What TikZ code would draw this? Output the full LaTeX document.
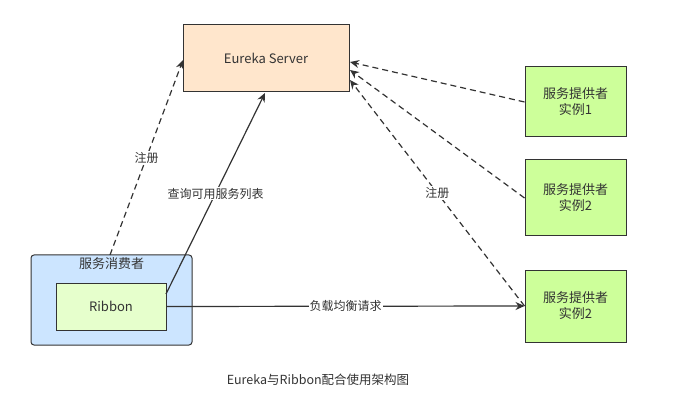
\documentclass[tikz,border=0pt]{standalone}
\usepackage{fontspec}
\setmainfont{Noto Sans CJK SC}
\usetikzlibrary{arrows.meta}
\definecolor{peach}{HTML}{FFE6CC}
\definecolor{lgreen}{HTML}{CDFF9A}
\definecolor{pgreen}{HTML}{E6FFCC}
\definecolor{lblue}{HTML}{CCE5FF}
\definecolor{ln}{HTML}{333333}
\begin{document}
\begin{tikzpicture}[x=1pt,y=-1pt,
  box/.style={draw=ln,line width=1pt,font=\fontsize{13}{16}\selectfont,text=ln,align=center,inner sep=0},
  arr/.style={draw=ln,line width=1.2pt,-{Stealth[length=9pt,width=8pt]}},
  darr/.style={arr,dash pattern=on 6pt off 4pt},
  lbl/.style={fill=white,font=\fontsize{12}{14}\selectfont,text=ln,inner sep=1pt}]
\useasboundingbox (0,0) rectangle (684,419);
\node[box,fill=peach,minimum width=166pt,minimum height=67pt] (eur) at (266,58.5) {Eureka Server};
\node[box,fill=lgreen,minimum width=101pt,minimum height=70pt] (p1) at (575.5,102) {服务提供者\\实例1};
\node[box,fill=lgreen,minimum width=101pt,minimum height=76pt] (p2) at (575.5,198) {服务提供者\\实例2};
\node[box,fill=lgreen,minimum width=101pt,minimum height=72pt] (p3) at (575.5,306) {服务提供者\\实例2};
\node[box,fill=lblue,rounded corners=3pt,minimum width=161pt,minimum height=90pt] (con) at (111.5,300) {};
\node[font=\fontsize{13}{16}\selectfont,text=ln] (conl) at (111.5,264) {服务消费者};
\node[box,fill=pgreen,minimum width=110pt,minimum height=47pt] (rib) at (111,306.5) {Ribbon};
\coordinate (c1) at (110,255);
\coordinate (e1) at (183,60);
\draw[darr] (c1) -- node[lbl,pos=0.5] {注册} (e1);
\coordinate (r1) at (166,294);
\coordinate (e2) at (265,93);
\draw[arr] (r1) -- node[lbl,pos=0.5] {查询可用服务列表} (e2);
\draw[arr] (rib.east) -- node[lbl] {负载均衡请求} (p3.west);
\draw[darr] (p1.west) -- (350,62);
\draw[darr] (p2.west) -- (350,70);
\draw[darr] (p3.west) -- node[lbl,pos=0.5] {注册} (350,80);
\node[font=\fontsize{12.5}{14}\selectfont,text=ln] (cap) at (318,380) {Eureka与Ribbon配合使用架构图};
\end{tikzpicture}
\end{document}
